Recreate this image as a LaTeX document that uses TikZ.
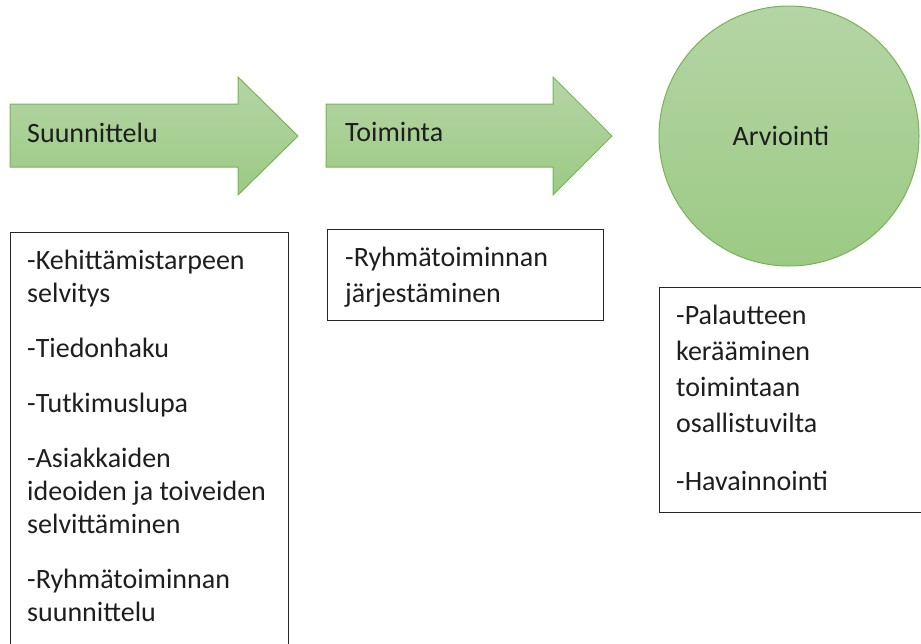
\documentclass[tikz,border=0pt]{standalone}
\usepackage{fontspec}
\setmainfont{Carlito}
\definecolor{gtop}{RGB}{180,213,165}
\definecolor{gbot}{RGB}{156,202,132}
\definecolor{gline}{RGB}{120,180,85}
\definecolor{txt}{RGB}{30,30,30}
\begin{document}
\begin{tikzpicture}[x=1pt,y=-1pt,
  greenshape/.style={top color=gtop,bottom color=gbot,draw=gline,line width=1pt},
  listbox/.style={draw=black!85,line width=1pt,fill=white},
  lbl/.style={font=\fontsize{28}{33}\selectfont,text=txt,inner sep=0pt},
  listtxt/.style={font=\fontsize{28}{33}\selectfont,text=txt,inner sep=0pt,align=left,anchor=north west},
  widetxt/.style={listtxt,font=\fontsize{28}{36}\selectfont}]
\useasboundingbox (0,0) rectangle (921,643);
\begin{scope}
\clip (0,0) rectangle (921,643);
% arrows
\draw[greenshape] (10,104) -- (238,104) -- (238,77) -- (298,136) -- (238,195) -- (238,167) -- (10,167) -- cycle;
\node[lbl,anchor=west] (a1) at (27,133) {Suunnittelu};
\draw[greenshape] (326,104) -- (553,104) -- (553,77) -- (612,136) -- (553,195) -- (553,167) -- (326,167) -- cycle;
\node[lbl,anchor=west] (a2) at (345,132) {Toiminta};
% circle
\node[greenshape,circle,minimum size=260pt,inner sep=0pt] (c) at (789,136) {};
\node[lbl] (ct) at (781,136) {Arviointi};
% boxes
\draw[listbox] (10,232) rectangle (288,660);
\node[listtxt] (t1) at (27,250) {-Kehittämistarpeen\\selvitys\\[22pt]-Tiedonhaku\\[22pt]-Tutkimuslupa\\[22pt]-Asiakkaiden\\ideoiden ja toiveiden\\selvittäminen\\[22pt]-Ryhmätoiminnan\\suunnittelu};
\draw[listbox] (327,229) rectangle (603,320);
\node[widetxt] (t2) at (345,247) {-Ryhmätoiminnan\\järjestäminen};
\draw[listbox] (659,287) rectangle (930,512);
\node[widetxt] (t3) at (676,305) {-Palautteen\\kerääminen\\toimintaan\\osallistuvilta\\[22pt]-Havainnointi};
\end{scope}
\end{tikzpicture}
\end{document}
